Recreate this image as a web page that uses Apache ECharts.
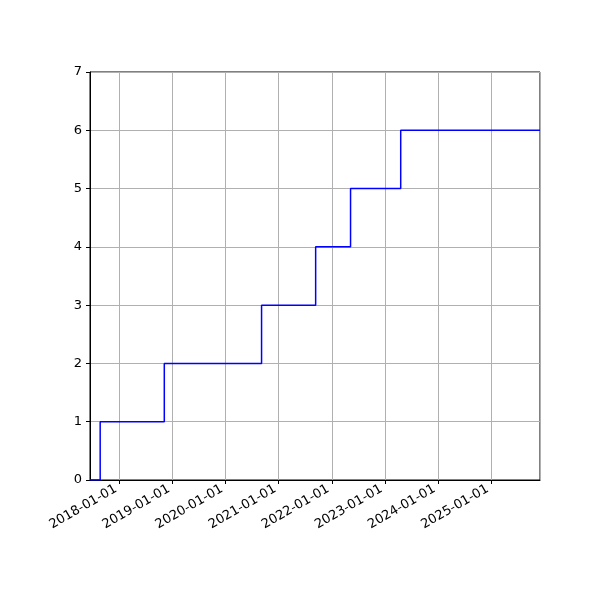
<!DOCTYPE html>
<html><head><meta charset="utf-8">
<script src="https://cdn.jsdelivr.net/npm/echarts@6/dist/echarts.min.js"></script>
<style>body{margin:0}#c{width:600px;height:600px}</style></head>
<body><div id="c"></div>
<script>
const dates = ['2017-06-13','2017-08-22','2018-11-06','2020-09-05','2021-09-12','2022-05-10','2023-04-20','2025-12-03'];
const values = [0,1,2,3,4,5,6,6];
const xMin = '2017-06-13', xMax = '2025-12-03';
const chart = echarts.init(document.getElementById('c'));
const Y = 365.25*86400000;
chart.setOption({
  animation:false,
  grid:{left:90,right:60,top:72,bottom:120,show:true,borderColor:'#000',borderWidth:1},
  xAxis:{type:'time',min:xMin,max:xMax,minInterval:Y*0.99,maxInterval:Y*1.01,
    axisLine:{show:true,lineStyle:{color:'#000'}},
    axisTick:{show:true,length:4,lineStyle:{color:'#000'}},
    axisLabel:{rotate:30,formatter:'{yyyy}-{MM}-{dd}',color:'#000',fontSize:13,fontFamily:'DejaVu Sans',showMinLabel:false,showMaxLabel:false,margin:6,padding:[0,4,0,0]},
    splitLine:{show:true,lineStyle:{color:'#b0b0b0'}}},
  yAxis:{type:'value',min:0,max:7,interval:1,
    axisLine:{show:true,lineStyle:{color:'#000'}},
    axisTick:{show:true,length:4,inside:false,lineStyle:{color:'#000'}},
    axisLabel:{color:'#000',fontSize:13,fontFamily:'DejaVu Sans'},
    splitLine:{show:true,lineStyle:{color:'#b0b0b0'}}},
  series:[{type:'line',step:'end',symbol:'none',data:dates.map((d,i)=>[d,values[i]]),
    lineStyle:{color:'#0000ff',width:1.5}}]
});
</script></body></html>
